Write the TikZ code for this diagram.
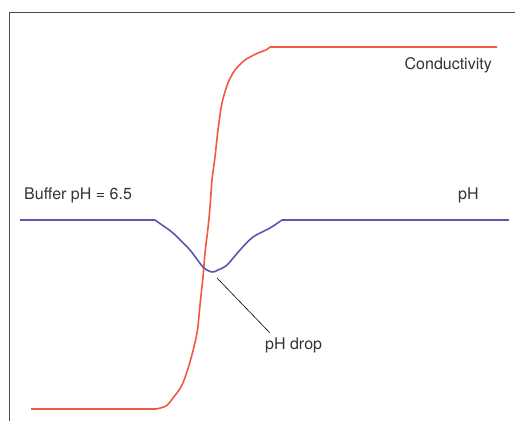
\documentclass[tikz,border=0pt]{standalone}
\usepackage{fontspec}
\setmainfont{TeX Gyre Heros}
\begin{document}
\begin{tikzpicture}[x=1pt,y=-1pt,
  frame/.style={draw=black!70,line width=1pt},
  condline/.style={draw=condcol,line width=1.6pt,line join=round},
  phline/.style={draw=phcol,line width=1.6pt,line join=round},
  leader/.style={draw=black,line width=0.6pt},
  lbl/.style={font=\fontsize{16}{19}\selectfont,text=black!80,inner sep=0pt}]
\definecolor{condcol}{RGB}{242,88,66}
\definecolor{phcol}{RGB}{88,88,178}
\useasboundingbox (0,0) rectangle (515,421);
\fill[white] (0,0) rectangle (515,421);
% frame
\draw[frame] (515,12) -- (9,12) -- (9,421);
% conductivity curve
\draw[condline] (31,409) -- (156,409) -- plot[smooth,tension=0.5] coordinates {(156,409) (166,406) (173,398) (182,385) (190,362) (197,333) (200,305) (203,277) (205,253) (208,228) (210,207) (212,180) (215,157) (218,130) (222,103) (228,83) (235,70) (245,60) (258,53) (266,50) (270,47)} -- (497,47);
% pH curve
\draw[phline] (20,220) -- (155,220) -- plot[smooth,tension=0.5] coordinates {(155,220) (162,225) (173,233) (190,250) (203,267) (212,272) (218,270) (227,265) (240,250) (253,237) (270,228) (282,220)} -- (509,220);
% labels
\node[lbl,anchor=base east] (cond) at (492,69) {Conductivity};
\node[lbl,anchor=base west] (buffer) at (24,199) {Buffer pH = 6.5};
\node[lbl,anchor=base west] (ph) at (458,199) {pH};
\node[lbl,anchor=base west] (drop) at (265,349) {pH drop};
\coordinate (dip) at (217,278);
\coordinate (leadend) at (270,333);
\draw[leader] (dip) -- (leadend);
\end{tikzpicture}
\end{document}
